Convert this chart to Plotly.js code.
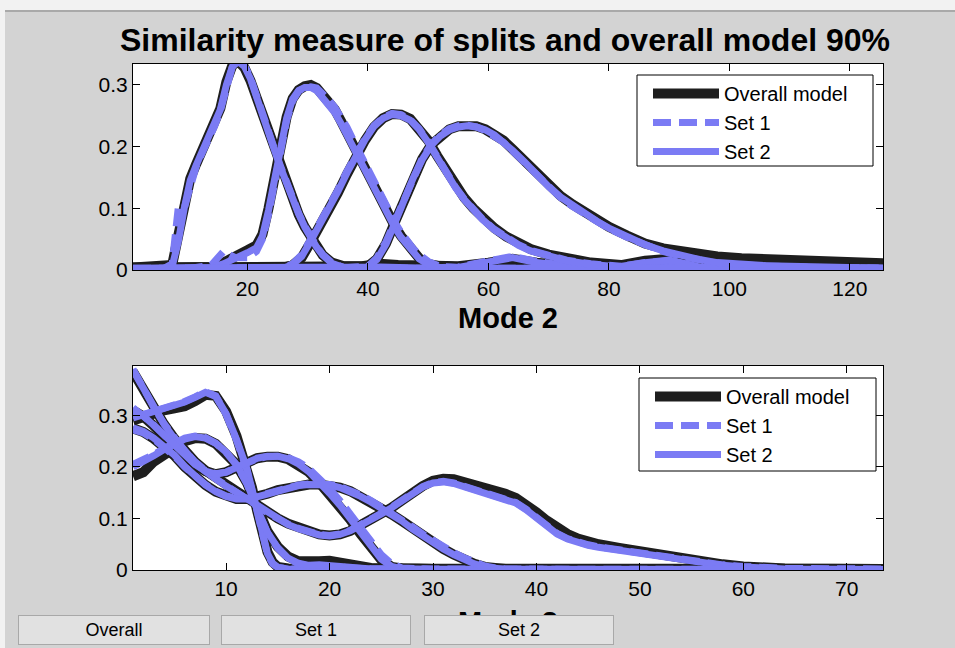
<!DOCTYPE html>
<html>
<head>
<meta charset="utf-8">
<script src="https://cdn.plot.ly/plotly-3.0.1.min.js"></script>
<style>
html, body { margin: 0; padding: 0; background: #d3d3d3; }
#wrap { position: relative; width: 955px; height: 648px; overflow: hidden; }
#chart { position: absolute; left: 0; top: 0; width: 955px; height: 648px; }
.btn { position: absolute; top: 615px; height: 30px; background: #e1e1e1; border: 1px solid #a8a8a8;
  box-sizing: border-box; font-family: "Liberation Sans", Arial, sans-serif; font-size: 18px; color: #000;
  text-align: center; line-height: 28px; }
</style>
</head>
<body>
<div id="wrap"><div id="chart"></div></div>
<script>
// ---------------- Top panel data ----------------
const topTicks = [20, 40, 60, 80, 100, 120];
const topYTicks = [0, 0.1, 0.2, 0.3];

const topAx = [1, 6, 7.5, 8.5, 9.5, 10.5, 11.5, 12.5, 13.5, 14.5, 15.5, 16.5, 17.5, 18.5, 19.5, 20.5, 21.5, 22.5, 23.5, 24.5, 25.5, 26.5, 27.5, 28.5, 29.5, 30.5, 31.5, 32.5, 34, 36, 39, 42, 45, 50, 55, 60, 64, 68, 75, 90, 110, 125.5];
const topAOverall = [0.004, 0.004, 0.008, 0.055, 0.11, 0.148, 0.172, 0.193, 0.213, 0.235, 0.262, 0.305, 0.332, 0.338, 0.328, 0.307, 0.28, 0.25, 0.22, 0.192, 0.165, 0.138, 0.113, 0.09, 0.07, 0.052, 0.037, 0.024, 0.012, 0.006, 0.006, 0.01, 0.008, 0.005, 0.006, 0.012, 0.018, 0.012, 0.005, 0.004, 0.003, 0.003];
const topASet1 = [0.002, 0.002, 0.01, 0.1, 0.1, 0.14, 0.168, 0.19, 0.21, 0.232, 0.258, 0.3, 0.33, 0.34, 0.332, 0.312, 0.285, 0.255, 0.225, 0.196, 0.168, 0.14, 0.115, 0.092, 0.071, 0.053, 0.038, 0.025, 0.012, 0.004, 0.003, 0.004, 0.003, 0.003, 0.005, 0.015, 0.022, 0.014, 0.004, 0.002, 0.002, 0.002];
const topASet2 = [0.002, 0.002, 0.006, 0.045, 0.1, 0.145, 0.17, 0.192, 0.212, 0.233, 0.26, 0.3, 0.33, 0.338, 0.33, 0.31, 0.283, 0.253, 0.223, 0.194, 0.166, 0.139, 0.114, 0.091, 0.07, 0.052, 0.037, 0.024, 0.011, 0.004, 0.003, 0.005, 0.004, 0.003, 0.004, 0.014, 0.02, 0.012, 0.004, 0.002, 0.002, 0.002];

const topBx = [1, 10, 14, 16, 18, 20, 21.5, 22.5, 23.5, 24.5, 25.5, 26.5, 27.5, 28.5, 29.5, 30.5, 31.5, 32.5, 33.5, 34.5, 35.5, 36.5, 37.5, 38.5, 39.5, 40.5, 41.5, 42.5, 43.5, 44.5, 45.5, 46.5, 47.5, 48.5, 50, 52, 56, 65, 80, 86, 90, 95, 110, 125.5];
const topBOverall = [0.003, 0.003, 0.005, 0.012, 0.02, 0.032, 0.04, 0.058, 0.1, 0.155, 0.205, 0.248, 0.278, 0.292, 0.298, 0.3, 0.295, 0.284, 0.272, 0.26, 0.242, 0.222, 0.203, 0.183, 0.163, 0.143, 0.123, 0.104, 0.087, 0.07, 0.055, 0.041, 0.029, 0.019, 0.01, 0.006, 0.004, 0.004, 0.004, 0.015, 0.018, 0.006, 0.004, 0.004];
const topBSet1 = [0.002, 0.002, 0.008, 0.03, 0.02, 0.02, 0.03, 0.05, 0.09, 0.145, 0.198, 0.242, 0.274, 0.29, 0.296, 0.297, 0.295, 0.287, 0.276, 0.264, 0.25, 0.232, 0.212, 0.192, 0.172, 0.152, 0.132, 0.113, 0.094, 0.077, 0.061, 0.047, 0.035, 0.025, 0.014, 0.006, 0.003, 0.003, 0.003, 0.012, 0.015, 0.005, 0.003, 0.003];
const topBSet2 = [0.002, 0.002, 0.004, 0.01, 0.018, 0.028, 0.036, 0.055, 0.097, 0.152, 0.203, 0.246, 0.277, 0.291, 0.296, 0.296, 0.291, 0.28, 0.268, 0.255, 0.238, 0.219, 0.2, 0.18, 0.16, 0.14, 0.12, 0.101, 0.084, 0.068, 0.053, 0.04, 0.028, 0.018, 0.009, 0.004, 0.003, 0.003, 0.003, 0.012, 0.016, 0.005, 0.003, 0.003];

const topCx = [1, 22, 26, 27.5, 29, 30.5, 32, 33.5, 35, 36.5, 38, 39.5, 41, 42.5, 44, 45.5, 47, 48.5, 50, 51.5, 53, 54.5, 56, 57.5, 59, 61, 63, 65, 67, 70, 73, 77, 82, 90, 100, 125.5];
const topCOverall = [0.003, 0.003, 0.004, 0.008, 0.02, 0.045, 0.07, 0.095, 0.125, 0.155, 0.185, 0.21, 0.232, 0.246, 0.253, 0.252, 0.245, 0.23, 0.21, 0.185, 0.16, 0.137, 0.117, 0.1, 0.085, 0.068, 0.054, 0.043, 0.034, 0.025, 0.018, 0.012, 0.008, 0.005, 0.004, 0.003];
const topCSet1 = [0.002, 0.002, 0.004, 0.01, 0.025, 0.05, 0.075, 0.1, 0.13, 0.16, 0.188, 0.213, 0.234, 0.247, 0.254, 0.252, 0.244, 0.229, 0.208, 0.183, 0.158, 0.135, 0.115, 0.098, 0.083, 0.066, 0.052, 0.041, 0.032, 0.023, 0.016, 0.01, 0.006, 0.004, 0.003, 0.002];
const topCSet2 = [0.002, 0.002, 0.003, 0.009, 0.022, 0.047, 0.072, 0.097, 0.127, 0.157, 0.186, 0.211, 0.233, 0.246, 0.252, 0.25, 0.243, 0.228, 0.207, 0.182, 0.157, 0.134, 0.114, 0.097, 0.082, 0.065, 0.051, 0.04, 0.031, 0.022, 0.015, 0.009, 0.005, 0.003, 0.002, 0.002];

const topDx = [1, 35, 40, 41.5, 43, 44.5, 46, 47.5, 49, 50.5, 52, 53.5, 55, 56.5, 58, 59.5, 61, 62.5, 64, 66, 68, 70, 72, 74, 76, 78, 80, 83, 86, 89, 92, 95, 98, 102, 106, 110, 114, 118, 122, 125.5];
const topDOverall = [0.004, 0.004, 0.006, 0.018, 0.043, 0.078, 0.115, 0.15, 0.18, 0.203, 0.218, 0.228, 0.233, 0.235, 0.233, 0.228, 0.22, 0.21, 0.196, 0.177, 0.156, 0.137, 0.12, 0.106, 0.093, 0.081, 0.07, 0.056, 0.043, 0.035, 0.03, 0.026, 0.022, 0.019, 0.017, 0.016, 0.014, 0.013, 0.012, 0.011];
const topDSet1 = [0.003, 0.003, 0.006, 0.02, 0.046, 0.08, 0.117, 0.152, 0.181, 0.204, 0.219, 0.229, 0.234, 0.235, 0.232, 0.226, 0.218, 0.207, 0.193, 0.174, 0.153, 0.134, 0.117, 0.103, 0.09, 0.078, 0.067, 0.053, 0.04, 0.03, 0.022, 0.016, 0.011, 0.008, 0.006, 0.005, 0.004, 0.004, 0.003, 0.003];
const topDSet2 = [0.003, 0.003, 0.005, 0.017, 0.042, 0.077, 0.114, 0.149, 0.179, 0.202, 0.217, 0.227, 0.232, 0.234, 0.232, 0.227, 0.219, 0.208, 0.194, 0.175, 0.154, 0.135, 0.118, 0.104, 0.091, 0.079, 0.068, 0.054, 0.041, 0.031, 0.023, 0.017, 0.012, 0.009, 0.007, 0.006, 0.005, 0.004, 0.004, 0.003];

// ---------------- Bottom panel data ----------------
const botTicks = [10, 20, 30, 40, 50, 60, 70];
const botYTicks = [0, 0.1, 0.2, 0.3];

const botAx = [1, 2, 3, 4, 5, 6, 7, 8, 9, 10, 11, 12, 13, 14, 15, 16, 17, 18, 19, 20, 21, 22, 23, 24, 25, 26, 27, 28, 29, 30, 31, 32, 33, 34, 35, 36, 37, 38, 39, 40, 41, 42, 43, 44, 45, 46, 48, 50, 52, 54, 56, 58, 60, 64, 73.5];
const botAOverall = [0.385, 0.35, 0.315, 0.283, 0.255, 0.23, 0.21, 0.193, 0.178, 0.165, 0.153, 0.14, 0.126, 0.112, 0.1, 0.09, 0.082, 0.075, 0.069, 0.067, 0.069, 0.076, 0.086, 0.097, 0.109, 0.121, 0.135, 0.15, 0.163, 0.173, 0.177, 0.176, 0.171, 0.165, 0.159, 0.154, 0.148, 0.14, 0.128, 0.112, 0.096, 0.082, 0.07, 0.061, 0.055, 0.05, 0.043, 0.036, 0.028, 0.021, 0.015, 0.011, 0.007, 0.003, 0.002];
const botASet1 = [0.39, 0.352, 0.316, 0.284, 0.256, 0.231, 0.21, 0.192, 0.177, 0.164, 0.152, 0.139, 0.125, 0.111, 0.099, 0.089, 0.081, 0.074, 0.069, 0.067, 0.07, 0.077, 0.087, 0.098, 0.11, 0.122, 0.136, 0.15, 0.162, 0.17, 0.172, 0.169, 0.163, 0.156, 0.149, 0.144, 0.139, 0.131, 0.118, 0.101, 0.085, 0.071, 0.061, 0.054, 0.049, 0.045, 0.039, 0.033, 0.025, 0.019, 0.013, 0.01, 0.007, 0.003, 0.002];
const botASet2 = [0.388, 0.351, 0.315, 0.283, 0.255, 0.23, 0.209, 0.191, 0.176, 0.163, 0.151, 0.138, 0.124, 0.11, 0.098, 0.088, 0.08, 0.073, 0.068, 0.066, 0.069, 0.076, 0.086, 0.097, 0.109, 0.121, 0.135, 0.149, 0.161, 0.169, 0.171, 0.168, 0.162, 0.155, 0.148, 0.143, 0.138, 0.13, 0.117, 0.1, 0.084, 0.07, 0.06, 0.053, 0.048, 0.044, 0.038, 0.032, 0.024, 0.018, 0.012, 0.009, 0.006, 0.002, 0.001];

const botBx = [1, 2, 3, 4, 5, 6, 7, 8, 9, 10, 11, 12, 12.5, 13, 13.5, 14, 14.5, 15, 16, 20, 30, 50, 73.5];
const botBOverall = [0.29, 0.298, 0.305, 0.31, 0.314, 0.318, 0.328, 0.34, 0.338, 0.308, 0.26, 0.2, 0.16, 0.115, 0.07, 0.035, 0.015, 0.006, 0.003, 0.003, 0.002, 0.002, 0.002];
const botBSet1 = [0.3, 0.302, 0.308, 0.314, 0.32, 0.327, 0.336, 0.346, 0.338, 0.302, 0.252, 0.195, 0.155, 0.11, 0.065, 0.03, 0.012, 0.005, 0.002, 0.002, 0.001, 0.001, 0.001];
const botBSet2 = [0.295, 0.301, 0.307, 0.313, 0.319, 0.326, 0.335, 0.345, 0.337, 0.303, 0.254, 0.197, 0.157, 0.112, 0.067, 0.032, 0.013, 0.005, 0.002, 0.002, 0.001, 0.001, 0.001];

const botCx = [1, 2, 3, 4, 5, 6, 7, 8, 9, 10, 11, 12, 13, 14, 15, 16, 17, 18, 19, 20, 21, 22, 24, 30, 50, 73.5];
const botCOverall = [0.182, 0.19, 0.21, 0.225, 0.24, 0.25, 0.256, 0.255, 0.245, 0.228, 0.205, 0.17, 0.12, 0.075, 0.045, 0.026, 0.017, 0.015, 0.017, 0.018, 0.014, 0.008, 0.004, 0.002, 0.002, 0.002];
const botCSet1 = [0.205, 0.213, 0.224, 0.236, 0.247, 0.256, 0.26, 0.257, 0.246, 0.228, 0.204, 0.168, 0.118, 0.072, 0.042, 0.022, 0.012, 0.008, 0.008, 0.008, 0.006, 0.004, 0.002, 0.001, 0.001, 0.001];
const botCSet2 = [0.2, 0.21, 0.222, 0.234, 0.245, 0.254, 0.259, 0.256, 0.246, 0.229, 0.205, 0.169, 0.119, 0.073, 0.043, 0.023, 0.013, 0.009, 0.01, 0.009, 0.007, 0.004, 0.002, 0.001, 0.001, 0.001];

const botDx = [1, 2, 3, 4, 5, 6, 7, 8, 9, 10, 11, 12, 13, 14, 15, 16, 17, 18, 19, 20, 21, 22, 23, 24, 25, 26, 27, 30, 40, 73.5];
const botDOverall = [0.31, 0.298, 0.28, 0.26, 0.24, 0.221, 0.204, 0.192, 0.186, 0.19, 0.2, 0.21, 0.217, 0.22, 0.22, 0.215, 0.205, 0.19, 0.17, 0.148, 0.125, 0.098, 0.07, 0.043, 0.02, 0.006, 0.003, 0.002, 0.002, 0.002];
const botDSet1 = [0.315, 0.3, 0.282, 0.262, 0.242, 0.223, 0.206, 0.193, 0.187, 0.19, 0.199, 0.209, 0.216, 0.22, 0.221, 0.218, 0.21, 0.197, 0.179, 0.158, 0.135, 0.109, 0.081, 0.054, 0.03, 0.012, 0.004, 0.001, 0.001, 0.001];
const botDSet2 = [0.312, 0.299, 0.281, 0.261, 0.241, 0.222, 0.205, 0.192, 0.186, 0.19, 0.2, 0.21, 0.217, 0.221, 0.221, 0.216, 0.206, 0.191, 0.171, 0.149, 0.126, 0.099, 0.071, 0.044, 0.021, 0.007, 0.002, 0.001, 0.001, 0.001];

const botEx = [1, 2, 3, 4, 5, 6, 7, 8, 9, 10, 11, 12, 13, 14, 15, 16, 17, 18, 19, 20, 21, 22, 23, 24, 25, 26, 27, 28, 29, 30, 31, 32, 33, 34, 35, 36, 37, 45, 73.5];
const botEOverall = [0.275, 0.268, 0.255, 0.24, 0.222, 0.2, 0.18, 0.165, 0.152, 0.143, 0.138, 0.138, 0.142, 0.148, 0.155, 0.16, 0.164, 0.166, 0.166, 0.165, 0.16, 0.153, 0.143, 0.132, 0.12, 0.108, 0.095, 0.08, 0.066, 0.053, 0.041, 0.03, 0.02, 0.012, 0.006, 0.003, 0.002, 0.002, 0.002];
const botESet1 = [0.272, 0.266, 0.254, 0.239, 0.221, 0.2, 0.181, 0.166, 0.153, 0.144, 0.139, 0.139, 0.143, 0.149, 0.156, 0.161, 0.165, 0.167, 0.167, 0.166, 0.162, 0.155, 0.146, 0.135, 0.123, 0.111, 0.098, 0.084, 0.07, 0.057, 0.045, 0.034, 0.024, 0.015, 0.008, 0.004, 0.002, 0.001, 0.001];
const botESet2 = [0.276, 0.269, 0.256, 0.241, 0.223, 0.201, 0.181, 0.165, 0.152, 0.143, 0.138, 0.138, 0.142, 0.148, 0.155, 0.16, 0.164, 0.166, 0.166, 0.165, 0.16, 0.153, 0.143, 0.132, 0.12, 0.108, 0.095, 0.08, 0.066, 0.053, 0.041, 0.03, 0.02, 0.012, 0.006, 0.003, 0.001, 0.001, 0.001];

const seriesNames = ['Overall model', 'Set 1', 'Set 2'];
const buttonLabels = ['Overall', 'Set 1', 'Set 2'];

// ---------------- Build traces ----------------
const W = 955, H = 648;
const BLACK = '#1e1e1e', BLUE = '#7b7bf4';
const styles = [
  {color: BLACK, width: 10, dash: 'solid'},
  {color: BLUE, width: 7, dash: '18px,8px'},
  {color: BLUE, width: 7, dash: 'solid'}
];

const topCurves = [
  [topAx, topAOverall, topASet1, topASet2],
  [topBx, topBOverall, topBSet1, topBSet2],
  [topCx, topCOverall, topCSet1, topCSet2],
  [topDx, topDOverall, topDSet1, topDSet2]
];
const botCurves = [
  [botAx, botAOverall, botASet1, botASet2],
  [botBx, botBOverall, botBSet1, botBSet2],
  [botCx, botCOverall, botCSet1, botCSet2],
  [botDx, botDOverall, botDSet1, botDSet2],
  [botEx, botEOverall, botESet1, botESet2]
];

const traces = [];
function addPanel(curves, xa, ya, legendId) {
  for (let s = 0; s < 3; s++) {
    curves.forEach((c, i) => {
      traces.push({
        type: 'scatter', mode: 'lines',
        x: c[0], y: c[s + 1],
        xaxis: xa, yaxis: ya,
        name: seriesNames[s],
        legend: legendId,
        legendgroup: legendId + s,
        showlegend: i === 0,
        line: {color: styles[s].color, width: styles[s].width, dash: styles[s].dash},
        hoverinfo: 'x+y+name'
      });
    });
  }
}
addPanel(topCurves, 'x', 'y', 'legend');
addPanel(botCurves, 'x2', 'y2', 'legend2');

// pixel helpers for layout placement
const px = v => v / W;
const py = v => 1 - v / H;

const axisCommon = {
  ticks: 'inside', ticklen: 7, tickwidth: 1, tickcolor: '#000',
  showline: true, linecolor: '#000', linewidth: 1, mirror: 'ticks',
  showgrid: false, zeroline: false,
  tickfont: {family: 'Liberation Sans, Arial, sans-serif', size: 21, color: '#000'}
};

const layout = {
  width: W, height: H,
  paper_bgcolor: '#d3d3d3', plot_bgcolor: '#ffffff',
  margin: {l: 0, r: 0, t: 0, b: 0},
  font: {family: 'Liberation Sans, Arial, sans-serif', size: 20, color: '#000'},
  title: {
    text: 'Similarity measure of splits and overall model 90%',
    font: {size: 32, weight: 'bold', color: '#000'},
    x: px(505), xanchor: 'center', y: py(40), yanchor: 'middle', xref: 'paper', yref: 'paper'
  },
  xaxis: Object.assign({}, axisCommon, {
    domain: [px(133), px(883)], anchor: 'y', range: [1, 125.5], tickvals: topTicks,
    title: {text: 'Mode 2', font: {size: 29, weight: 'bold'}, standoff: 8}
  }),
  yaxis: Object.assign({}, axisCommon, {
    domain: [py(270), py(64)], anchor: 'x', range: [0, 0.334], tickvals: topYTicks
  }),
  xaxis2: Object.assign({}, axisCommon, {
    domain: [px(133), px(883)], anchor: 'y2', range: [1, 73.5], tickvals: botTicks,
    title: {text: 'Mode 3', font: {size: 29, weight: 'bold'}, standoff: 12}
  }),
  yaxis2: Object.assign({}, axisCommon, {
    domain: [py(570), py(366)], anchor: 'x2', range: [0, 0.396], tickvals: botYTicks
  }),
  legend: {
    x: px(648), xanchor: 'left', y: py(74), yanchor: 'top',
    bgcolor: 'rgba(0,0,0,0)', borderwidth: 0, itemwidth: 66,
    font: {size: 20, color: '#000'}, tracegroupgap: 0
  },
  legend2: {
    x: px(650), xanchor: 'left', y: py(377), yanchor: 'top',
    bgcolor: 'rgba(0,0,0,0)', borderwidth: 0, itemwidth: 66,
    font: {size: 20, color: '#000'}, tracegroupgap: 0
  },
  shapes: [
    {type: 'rect', xref: 'paper', yref: 'paper', x0: 0, x1: 1, y0: py(10), y1: 1, fillcolor: '#f2f2f2', line: {width: 0}, layer: 'below'},
    {type: 'line', xref: 'paper', yref: 'paper', x0: px(5), x1: 1, y0: py(11), y1: py(11), line: {color: '#a9a9a9', width: 2}, layer: 'below'},
    {type: 'rect', xref: 'paper', yref: 'paper', x0: 0, x1: px(5), y0: 0, y1: 1, fillcolor: '#f2f2f2', line: {width: 0}, layer: 'below'},
    {type: 'rect', xref: 'paper', yref: 'paper', x0: px(637), x1: px(873), y0: py(166), y1: py(75), fillcolor: '#ffffff', line: {color: '#000', width: 1}, layer: 'above'},
    {type: 'rect', xref: 'paper', yref: 'paper', x0: px(639), x1: px(876), y0: py(471), y1: py(378), fillcolor: '#ffffff', line: {color: '#000', width: 1}, layer: 'above'}
  ],
  showlegend: true
};

Plotly.newPlot('chart', traces, layout, {displayModeBar: false, staticPlot: false}).then(() => {
  const wrap = document.getElementById('wrap');
  const btnPos = [[18, 192], [221, 190], [424, 190]];
  buttonLabels.forEach((lab, i) => {
    const b = document.createElement('div');
    b.className = 'btn';
    b.style.left = btnPos[i][0] + 'px';
    b.style.width = btnPos[i][1] + 'px';
    b.textContent = lab;
    wrap.appendChild(b);
  });
});
</script>
</body>
</html>
